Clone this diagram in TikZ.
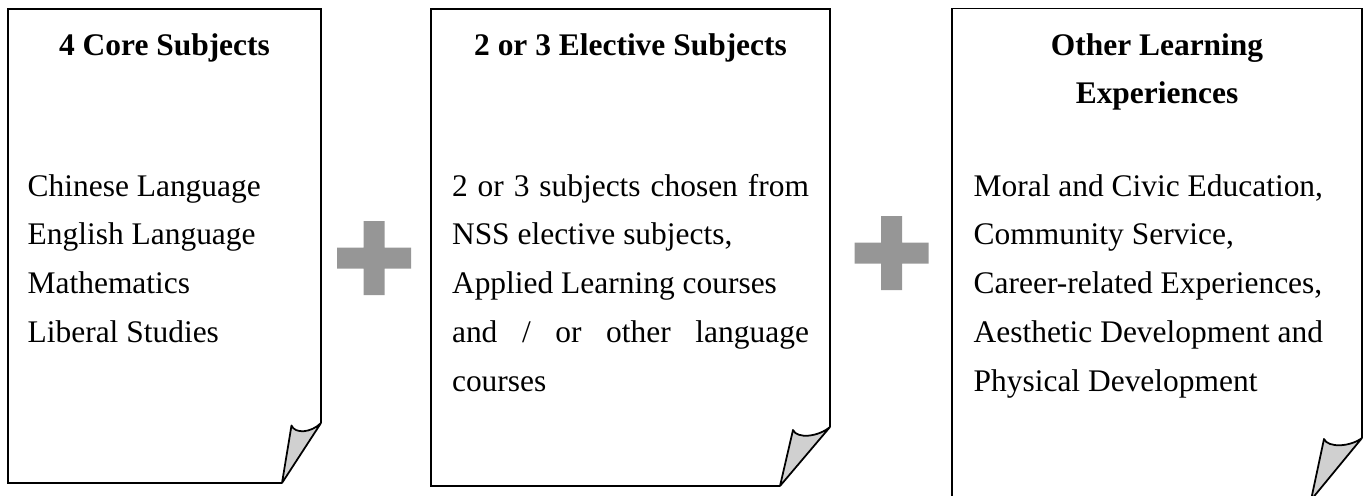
\documentclass[tikz,border=0pt]{standalone}
\usepackage{fontspec}
\setmainfont{Liberation Serif}
\definecolor{plusgray}{RGB}{150,150,150}
\definecolor{foldgray}{RGB}{208,208,208}
\tikzset{
  sheet/.style={draw=black, line width=1pt},
  curl/.style={draw=black, line width=1pt, fill=foldgray, line join=round},
  heading/.style={anchor=north, inner sep=0pt, align=center, font=\fontsize{17.9pt}{27.7pt}\selectfont\bfseries},
  listtext/.style={anchor=north west, inner sep=0pt, align=left, font=\fontsize{17.9pt}{27.7pt}\selectfont},
}

\begin{document}
\begin{tikzpicture}[x=0.02cm, y=-0.02cm]
    \useasboundingbox (0,0) rectangle (1363,495);
    \clip (0,0) rectangle (1363,495);
    \def\headtop{20.9}
    \def\bodytop{161.9}
    \def\armlen{37}
    \def\armhalf{10.5}
    % core subjects sheet
    \draw[sheet] (282,483) -- (8,483) -- (8,9) -- (321,9) -- (321,423);
    \draw[curl] (282,483) -- (291.5,425.5) .. controls (295,434) and (311,433) .. (321,423) -- cycle;
    \node[heading] (coreHead) at (164.5,\headtop) {\strut 4 Core Subjects};
    \node[listtext] (coreList) at (27.3,\bodytop) {\strut Chinese Language\\English Language\\Mathematics\\Liberal Studies};
    % first plus
    \coordinate (P1) at (374,258);
    \fill[plusgray, shift={(P1)}] (-\armhalf,-\armlen) rectangle (\armhalf,\armlen) (-\armlen,-\armhalf) rectangle (\armlen,\armhalf);
    % elective sheet
    \draw[sheet] (780,486) -- (431,486) -- (431,9) -- (830,9) -- (830,427);
    \draw[curl] (780,486) -- (793,430) .. controls (797,439) and (818,437) .. (830,427) -- cycle;
    \node[heading] (electHead) at (630.5,\headtop) {\strut 2 or 3 Elective Subjects};
    \node[listtext] (electList) at (451.7,\bodytop) {\strut\makebox[7.14cm][s]{2 or 3 subjects chosen from}\\NSS elective subjects,\\Applied Learning courses\\\makebox[7.14cm][s]{and / or other language}\\courses};
    % second plus
    \coordinate (P2) at (891.5,253);
    \fill[plusgray, shift={(P2)}] (-\armhalf,-\armlen) rectangle (\armhalf,\armlen) (-\armlen,-\armhalf) rectangle (\armlen,\armhalf);
    % other learning sheet, runs off the bottom
    \draw[sheet] (952,500) -- (952,8.5) -- (1362,8.5) -- (1362,438);
    \draw[curl] (1311,500) -- (1324,439) .. controls (1328,448) and (1350,447) .. (1362,438) -- cycle;
    \node[heading] (otherHead) at (1157,\headtop) {\strut Other Learning\\Experiences};
    \node[listtext] (otherList) at (973.3,\bodytop) {\strut Moral and Civic Education,\\Community Service,\\Career-related Experiences,\\Aesthetic Development and\\Physical Development};
\end{tikzpicture}
\end{document}
